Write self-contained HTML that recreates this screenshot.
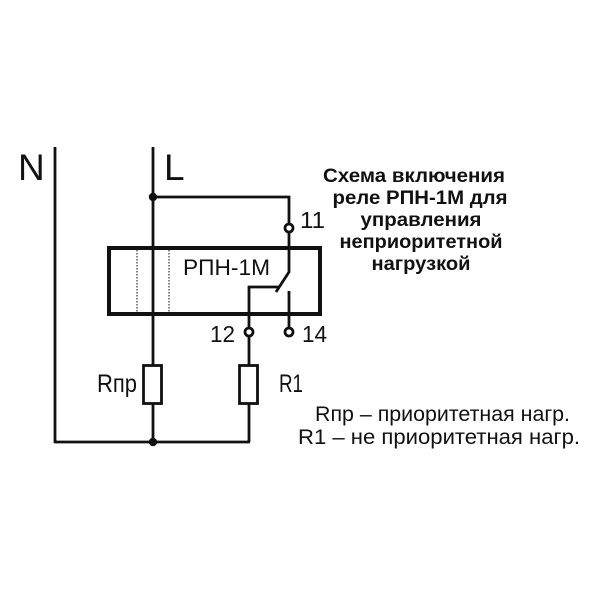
<!DOCTYPE html>
<html>
<head>
<meta charset="utf-8">
<style>
  html, body { margin: 0; padding: 0; background: #fff; }
  svg { display: block; }
  text { font-family: "Liberation Sans", "DejaVu Sans", sans-serif; fill: #111; }
</style>
</head>
<body>
<svg width="600" height="600" viewBox="0 0 600 600" xmlns="http://www.w3.org/2000/svg">
  <rect x="0" y="0" width="600" height="600" fill="#fff"/>

  <g stroke="#111" stroke-width="2.8" fill="none" stroke-linecap="butt">
    <!-- N wire -->
    <line x1="55" y1="147" x2="55" y2="443"/>
    <!-- bottom wire -->
    <line x1="54" y1="442" x2="250" y2="442"/>
    <!-- L wire -->
    <line x1="153" y1="147" x2="153" y2="365"/>
    <line x1="153" y1="404" x2="153" y2="442"/>
    <!-- top branch to 11 -->
    <polyline points="153,197 289,197 289,224"/>
    <!-- switch -->
    <polyline points="289,232 289,272 276,292"/>
    <polyline points="280,287 249,287 249,328"/>
    <!-- fixed contact 14 -->
    <line x1="289" y1="291" x2="289" y2="328"/>
    <!-- 12 to R1 -->
    <line x1="249" y1="336" x2="249" y2="365"/>
    <line x1="249" y1="404" x2="249" y2="442"/>
    <!-- resistors -->
    <rect x="143.5" y="365.5" width="18" height="38"/>
    <rect x="239.5" y="365.5" width="18" height="38"/>
    <!-- terminal circles -->
    <circle cx="289" cy="228" r="4"/>
    <circle cx="249" cy="332" r="4"/>
    <circle cx="289" cy="332" r="4"/>
  </g>

  <!-- relay box -->
  <rect x="109" y="248" width="211" height="66" fill="none" stroke="#111" stroke-width="4"/>
  <!-- dotted lines -->
  <g stroke="#333" stroke-width="1.2" stroke-dasharray="1.5 1.5">
    <line x1="137" y1="250" x2="137" y2="312"/>
    <line x1="169" y1="250" x2="169" y2="312"/>
  </g>

  <!-- junction dots -->
  <circle cx="153" cy="197" r="4.2" fill="#111"/>
  <circle cx="153" cy="442" r="4.2" fill="#111"/>

  <!-- labels -->
  <text x="18" y="180" font-size="37">N</text>
  <text x="164" y="180" font-size="37">L</text>
  <text x="183" y="275" font-size="22.5" textLength="87" lengthAdjust="spacingAndGlyphs">РПН-1М</text>
  <text x="300" y="228" font-size="23.5" textLength="25" lengthAdjust="spacingAndGlyphs">11</text>
  <text x="210" y="342" font-size="23.5" textLength="25" lengthAdjust="spacingAndGlyphs">12</text>
  <text x="302" y="342" font-size="23.5" textLength="25" lengthAdjust="spacingAndGlyphs">14</text>
  <text x="97" y="392" font-size="25" textLength="40" lengthAdjust="spacingAndGlyphs">Rпр</text>
  <text x="279" y="392" font-size="25" textLength="24" lengthAdjust="spacingAndGlyphs">R1</text>

  <!-- title -->
  <g font-weight="bold" font-size="19.5" text-anchor="middle">
    <text x="414" y="182" textLength="182" lengthAdjust="spacingAndGlyphs">Схема включения</text>
    <text x="420" y="204" textLength="175" lengthAdjust="spacingAndGlyphs">реле РПН-1М для</text>
    <text x="421" y="226" textLength="121" lengthAdjust="spacingAndGlyphs">управления</text>
    <text x="421" y="248" textLength="163" lengthAdjust="spacingAndGlyphs">неприоритетной</text>
    <text x="421" y="270" textLength="99" lengthAdjust="spacingAndGlyphs">нагрузкой</text>
  </g>

  <!-- legend -->
  <text x="315" y="421" font-size="21" textLength="255" lengthAdjust="spacingAndGlyphs">Rпр – приоритетная нагр.</text>
  <text x="298" y="444" font-size="21" textLength="282" lengthAdjust="spacingAndGlyphs">R1 – не приоритетная нагр.</text>
</svg>
</body>
</html>
